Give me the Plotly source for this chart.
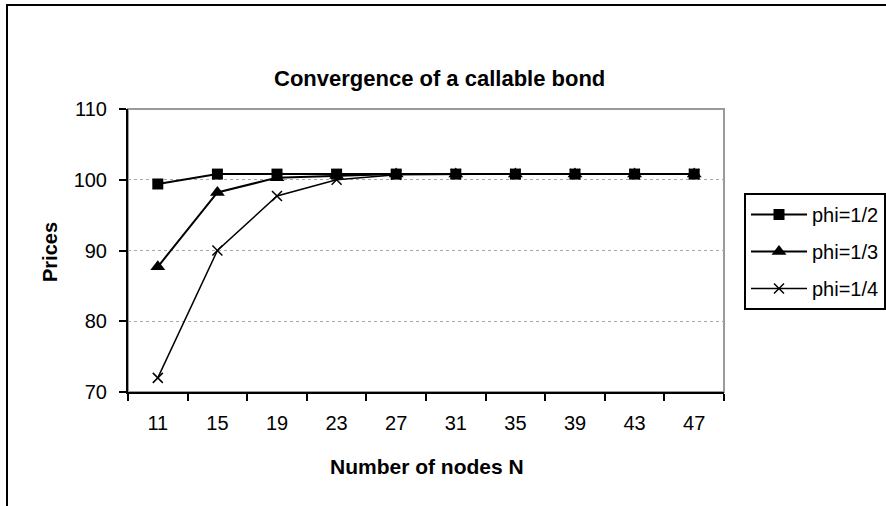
import plotly.graph_objects as go

# Data
nodes = ["11", "15", "19", "23", "27", "31", "35", "39", "43", "47"]
phi_half = [99.4, 100.8, 100.8, 100.8, 100.8, 100.8, 100.8, 100.8, 100.8, 100.8]
phi_third = [87.7, 98.2, 100.3, 100.6, 100.8, 100.8, 100.8, 100.8, 100.8, 100.8]
phi_quarter = [72.0, 90.0, 97.7, 100.0, 100.7, 100.8, 100.8, 100.8, 100.8, 100.8]
y_ticks = [70, 80, 90, 100, 110]

W, H = 886, 506
L, R, T, B = 128, 724, 109, 392  # plot area in pixels

def px_x(p):
    return (p - L) / (R - L)

def px_y(p):
    return (B - p) / (B - T)

FONT = "Liberation Sans, Arial, sans-serif"

fig = go.Figure()
fig.add_trace(go.Scatter(
    x=nodes, y=phi_half, name="phi=1/2", mode="lines+markers", legendgroup="a",
    line=dict(color="black", width=2),
    marker=dict(symbol="square", size=11, color="black"),
))
fig.add_trace(go.Scatter(
    x=nodes, y=phi_third, name="phi=1/3", mode="lines+markers", legendgroup="b",
    line=dict(color="black", width=2),
    marker=dict(symbol="triangle-up", size=13, color="black"),
))
fig.add_trace(go.Scatter(
    x=nodes, y=phi_quarter, name="phi=1/4", mode="lines+markers", legendgroup="c",
    line=dict(color="black", width=1.5),
    marker=dict(symbol="x-thin", size=10, color="black",
                line=dict(color="black", width=1.5)),
))

fig.update_layout(
    width=W, height=H,
    margin=dict(l=L, r=W - R, t=T, b=H - B, autoexpand=False),
    paper_bgcolor="white", plot_bgcolor="white",
    font=dict(family=FONT, size=20, color="black"),
    showlegend=True,
    legend=dict(
        x=px_x(744), y=px_y(193), xanchor="left", yanchor="top",
        bordercolor="black", borderwidth=2, bgcolor="white",
        font=dict(family=FONT, size=20, color="black"),
        tracegroupgap=8, traceorder="grouped", itemwidth=56,
    ),
    xaxis=dict(
        type="category", range=[-0.5, len(nodes) - 0.5],
        showline=True, linecolor="black", linewidth=2,
        ticks="outside", tickson="boundaries", ticklen=7, tickwidth=2, tickcolor="black",
        showgrid=False, zeroline=False, ticklabelstandoff=12,
        tickfont=dict(family=FONT, size=20),
    ),
    yaxis=dict(
        range=[70, 110], tickvals=y_ticks,
        showline=True, linecolor="black", linewidth=2,
        ticks="outside", ticklen=7, tickwidth=2, tickcolor="black",
        showgrid=True, gridcolor="#a8a8a8", gridwidth=1, griddash="dot",
        zeroline=False, ticklabelstandoff=8,
        tickfont=dict(family=FONT, size=20),
    ),
    shapes=[
        # plot area border (gray)
        dict(type="rect", xref="paper", yref="paper", x0=0, x1=1, y0=0, y1=1,
             line=dict(color="#9a9a9a", width=2), layer="below"),
        # outer chart border
        dict(type="rect", xref="paper", yref="paper",
             x0=px_x(7), x1=px_x(905), y0=px_y(525), y1=px_y(5),
             line=dict(color="black", width=2), layer="below"),
    ],
    annotations=[
        dict(text="<b>Convergence of a callable bond</b>", xref="paper", yref="paper",
             x=px_x(439), y=px_y(79), xanchor="center", yanchor="middle",
             showarrow=False, font=dict(family=FONT, size=22, color="black")),
        dict(text="<b>Number of nodes N</b>", xref="paper", yref="paper",
             x=px_x(427), y=px_y(466), xanchor="center", yanchor="middle",
             showarrow=False, font=dict(family=FONT, size=21, color="black")),
        dict(text="<b>Prices</b>", xref="paper", yref="paper",
             x=px_x(50), y=px_y(252), xanchor="center", yanchor="middle",
             textangle=-90, showarrow=False,
             font=dict(family=FONT, size=20, color="black")),
    ],
)

fig.write_html("out.html", config={"displayModeBar": False},
               post_script="document.body.style.margin='0';document.body.style.padding='0';")
